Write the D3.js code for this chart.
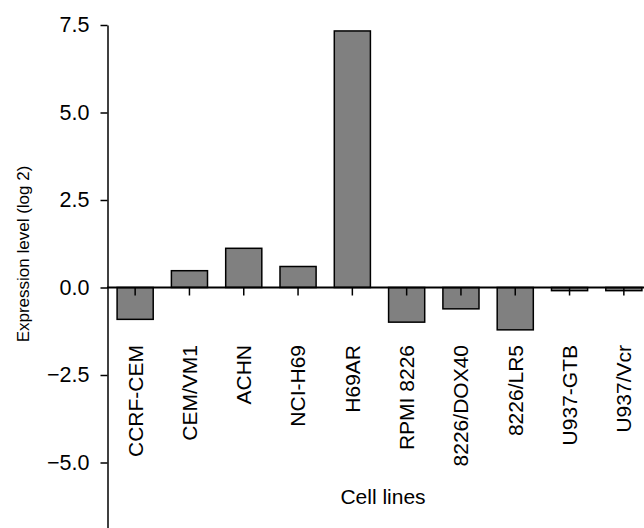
<!DOCTYPE html>
<html>
<head>
<meta charset="utf-8">
<script src="https://cdn.jsdelivr.net/npm/d3@7"></script>
<style>
  body { margin: 0; background: #fff; }
  text { font-family: "Liberation Sans", Arial, sans-serif; fill: #000; }
</style>
</head>
<body>
<div id="chart"></div>
<script>
const cellLines = ["CCRF-CEM", "CEM/VM1", "ACHN", "NCI-H69", "H69AR",
  "RPMI 8226", "8226/DOX40", "8226/LR5", "U937-GTB", "U937/Vcr"];
const expression = [-0.91, 0.48, 1.12, 0.6, 7.33, -0.99, -0.61, -1.21, -0.09, -0.09];
const yTicks = [-5, -2.5, 0, 2.5, 5, 7.5];

const width = 644, height = 528;

let svg = d3.select("#chart")
  .append("svg")
  .attr("width", width)
  .attr("height", height);

let x = d3.scaleBand()
  .domain(cellLines)
  .range([108, 651])
  .paddingInner(0.335)
  .paddingOuter(0.1675);

let y = d3.scaleLinear()
  .domain([-7, 7.5])
  .range([532.5, 25]);

// y axis
let yAxis = svg.append("g")
  .attr("transform", "translate(107.5,0)")
  .call(d3.axisLeft(y)
    .tickValues(yTicks)
    .tickFormat(d3.format(".1f"))
    .tickSize(7)
    .tickSizeOuter(0)
    .tickPadding(11));

yAxis.select(".domain").attr("stroke-width", 1.5);
yAxis.selectAll(".tick line").attr("stroke-width", 1.5);
yAxis.selectAll(".tick text")
  .attr("font-size", "21.5px")
  .attr("font-family", "Liberation Sans, Arial, sans-serif");

// bars
svg.append("g")
  .selectAll("rect")
  .data(cellLines)
  .join("rect")
  .attr("x", d => x(d))
  .attr("width", x.bandwidth())
  .attr("y", (d, i) => y(Math.max(0, expression[i])))
  .attr("height", (d, i) => Math.abs(y(expression[i]) - y(0)))
  .attr("fill", "#808080")
  .attr("stroke", "#000")
  .attr("stroke-width", 1.5);

// zero line
svg.append("line")
  .attr("x1", 107)
  .attr("x2", width)
  .attr("y1", y(0))
  .attr("y2", y(0))
  .attr("stroke", "#000")
  .attr("stroke-width", 2.2);

// category ticks
svg.append("g")
  .selectAll("line")
  .data(cellLines)
  .join("line")
  .attr("x1", d => x(d) + x.bandwidth() / 2)
  .attr("x2", d => x(d) + x.bandwidth() / 2)
  .attr("y1", y(0))
  .attr("y2", y(0) + 8)
  .attr("stroke", "#000")
  .attr("stroke-width", 1.5);

// category labels
svg.append("g")
  .selectAll("text")
  .data(cellLines)
  .join("text")
  .attr("transform", d => `translate(${x(d) + x.bandwidth() / 2},345) rotate(-90)`)
  .attr("dy", "0.35em")
  .attr("text-anchor", "end")
  .attr("font-size", "21px")
  .text(d => d);

// axis titles
svg.append("text")
  .attr("x", 383)
  .attr("y", 504)
  .attr("text-anchor", "middle")
  .attr("font-size", "21px")
  .text("Cell lines");

svg.append("text")
  .attr("transform", "translate(29,254) rotate(-90)")
  .attr("text-anchor", "middle")
  .attr("font-size", "17px")
  .text("Expression level (log 2)");
</script>
</body>
</html>
